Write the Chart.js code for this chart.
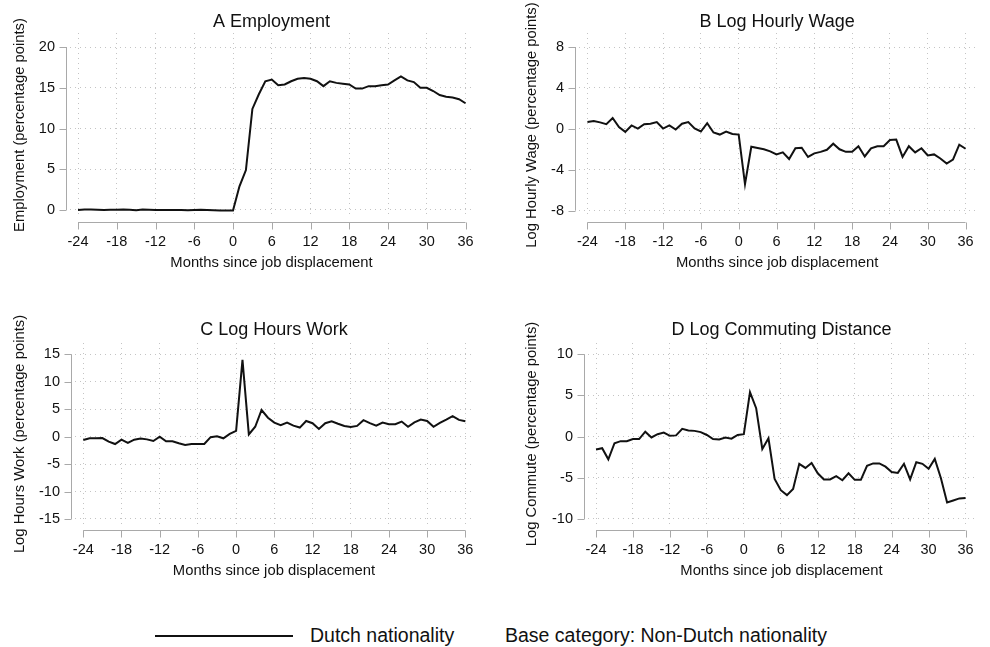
<!DOCTYPE html>
<html>
<head>
<meta charset="utf-8">
<script src="https://cdn.jsdelivr.net/npm/chart.js@4"></script>
<style>
  body { margin:0; background:#fff; width:990px; height:647px; position:relative; overflow:hidden; font-family:'Liberation Sans', Arial, sans-serif; }
  .panel { position:absolute; width:495px; height:290px; }
  .legend { position:absolute; top:622px; left:0; width:990px; height:28px; font-size:19.5px; color:#111; }
</style>
</head>
<body>
<div class="panel" style="left:0;top:0"><canvas id="chartA"></canvas></div>
<div class="panel" style="left:495px;top:0"><canvas id="chartB"></canvas></div>
<div class="panel" style="left:0;top:310px"><canvas id="chartC"></canvas></div>
<div class="panel" style="left:495px;top:310px"><canvas id="chartD"></canvas></div>
<div class="legend">
  <div style="position:absolute;left:155px;top:13px;width:138px;border-top:2px solid #111"></div>
  <span style="position:absolute;left:310px;top:2px">Dutch nationality</span>
  <span style="position:absolute;left:505px;top:2px">Base category: Non-Dutch nationality</span>
</div>
<script>
// months relative to job displacement
const months = [-24,-23,-22,-21,-20,-19,-18,-17,-16,-15,-14,-13,-12,-11,-10,-9,-8,-7,-6,-5,-4,-3,-2,-1,0,
  1,2,3,4,5,6,7,8,9,10,11,12,13,14,15,16,17,18,19,20,21,22,23,24,25,26,27,28,29,30,31,32,33,34,35,36];
const xTicks = [-24,-18,-12,-6,0,6,12,18,24,30,36];

const employment = [0,0.05,0.05,0.02,0,0.02,0.03,0.05,0.02,-0.02,0.05,0.03,0,0,0,0,0,-0.03,0,0.02,0,-0.03,-0.05,-0.05,-0.05,
  2.9,4.9,12.4,14.2,15.8,16.0,15.3,15.4,15.8,16.1,16.2,16.1,15.8,15.2,15.8,15.6,15.5,15.4,14.9,14.9,15.2,15.2,15.3,15.4,15.9,16.4,15.9,15.7,15.0,15.0,14.6,14.1,13.9,13.8,13.6,13.1];
const hourlyWage = [0.66,0.76,0.63,0.46,1.06,0.17,-0.3,0.33,0.03,0.46,0.5,0.66,0.03,0.33,-0.07,0.5,0.66,0.03,-0.26,0.56,-0.36,-0.56,-0.26,-0.5,-0.56,
  -5.4,-1.75,-1.88,-2.0,-2.2,-2.5,-2.3,-2.95,-1.9,-1.85,-2.75,-2.4,-2.25,-2.05,-1.45,-2.0,-2.25,-2.25,-1.7,-2.7,-1.9,-1.7,-1.7,-1.1,-1.05,-2.75,-1.7,-2.3,-1.9,-2.6,-2.5,-2.9,-3.4,-3.0,-1.55,-1.95];
const hoursWork = [-0.6,-0.3,-0.3,-0.25,-0.9,-1.35,-0.55,-1.15,-0.55,-0.35,-0.5,-0.8,0,-0.85,-0.85,-1.2,-1.5,-1.35,-1.35,-1.35,-0.1,0.05,-0.3,0.5,1.05,
  14.0,0.4,1.8,4.85,3.45,2.55,2.1,2.55,2.0,1.65,2.85,2.45,1.4,2.45,2.8,2.35,1.95,1.75,1.95,3.0,2.45,2.0,2.55,2.25,2.25,2.75,1.8,2.6,3.1,2.85,1.8,2.5,3.1,3.75,3.05,2.8];
const commute = [-1.55,-1.4,-2.75,-0.8,-0.55,-0.55,-0.3,-0.3,0.6,-0.1,0.3,0.5,0.1,0.15,0.95,0.75,0.7,0.55,0.2,-0.3,-0.35,-0.1,-0.25,0.2,0.3,
  5.4,3.45,-1.5,-0.2,-5.15,-6.5,-7.1,-6.35,-3.3,-3.8,-3.2,-4.45,-5.2,-5.2,-4.8,-5.3,-4.45,-5.25,-5.25,-3.55,-3.25,-3.25,-3.65,-4.3,-4.4,-3.3,-5.2,-3.1,-3.3,-3.9,-2.7,-5.05,-8.0,-7.75,-7.5,-7.45];

const ticksA = [0,5,10,15,20];
const ticksB = [-8,-4,0,4,8];
const ticksC = [-15,-10,-5,0,5,10,15];
const ticksD = [-10,-5,0,5,10];

const FONT = "'Liberation Sans', Arial, sans-serif";
const TEXT = '#111';
const AXIS = '#a9a9a9';
const GRID = '#c4c4c4';

// Stata-style axes: lines pulled off the plot region, spanning first..last tick
const offsetAxes = {
  id: 'offsetAxes',
  afterDraw(chart) {
    const {ctx, chartArea: a, scales: {x, y}} = chart;
    const yt = y.ticks.map(t => t.value), xt = x.ticks.map(t => t.value);
    const ax = a.left - 3.5, ay = a.bottom + 5.5;
    ctx.save();
    ctx.strokeStyle = AXIS;
    ctx.lineWidth = 1;
    ctx.beginPath();
    ctx.moveTo(ax, y.getPixelForValue(yt[0]));
    ctx.lineTo(ax, y.getPixelForValue(yt[yt.length-1]));
    yt.forEach(v => { const p = Math.round(y.getPixelForValue(v)) + 0.5; ctx.moveTo(ax - 7, p); ctx.lineTo(ax, p); });
    ctx.moveTo(x.getPixelForValue(xt[0]), ay);
    ctx.lineTo(x.getPixelForValue(xt[xt.length-1]), ay);
    xt.forEach(v => { const p = Math.round(x.getPixelForValue(v)) + 0.5; ctx.moveTo(p, ay); ctx.lineTo(p, ay + 7); });
    ctx.stroke();
    ctx.restore();
  }
};

function makePanel(id, o) {
  const ctx = document.getElementById(id).getContext('2d');
  return new Chart(ctx, {
    type: 'line',
    data: {
      datasets: [{
        data: months.map((m, i) => ({x: m, y: o.values[i]})),
        borderColor: '#111', borderWidth: 2, pointRadius: 0, tension: 0, fill: false
      }]
    },
    options: {
      responsive: true, maintainAspectRatio: false, animation: false,
      layout: { padding: { left: 0, right: o.padRight, top: 0, bottom: 0 } },
      plugins: {
        legend: { display: false }, tooltip: { enabled: false },
        title: { display: true, text: o.title, fullSize: false, color: TEXT,
          font: { family: FONT, size: 18, weight: 'normal' }, padding: { top: o.titleTop, bottom: 33 - o.titleTop - 21.6 } }
      },
      scales: {
        x: {
          type: 'linear', min: o.xMin, max: o.xMax,
          afterBuildTicks: s => { s.ticks = xTicks.map(v => ({value: v})); },
          afterFit: s => { s.height = o.xHeight; },
          ticks: { color: TEXT, font: { family: FONT, size: 14.5 }, padding: 16, maxRotation: 0, autoSkip: false },
          grid: { color: GRID, lineWidth: 1, drawTicks: false },
          border: { display: false, dash: [1, 4] },
          title: { display: true, text: 'Months since job displacement', color: TEXT,
            font: { family: FONT, size: 14.8 }, padding: { top: 0, bottom: o.xTitlePad } }
        },
        y: {
          min: o.yMin, max: o.yMax,
          afterBuildTicks: s => { s.ticks = o.yTicks.map(v => ({value: v})); },
          afterFit: s => { s.width = o.yWidth; },
          ticks: { color: TEXT, font: { family: FONT, size: 14.5 }, padding: 15 },
          grid: { color: GRID, lineWidth: 1, drawTicks: false },
          border: { display: false, dash: [1, 4] },
          title: { display: true, text: o.yTitle, color: TEXT,
            font: { family: FONT, size: 14.8 }, padding: { top: o.yTitlePad, bottom: 0 } }
        }
      }
    },
    plugins: [offsetAxes]
  });
}

makePanel('chartA', { title: 'A Employment', yTitle: 'Employment (percentage points)', values: employment,
  yTicks: ticksA, yMin: -0.86, yMax: 21.72, xMin: -25.24, xMax: 37.16,
  yWidth: 70, padRight: 22, xHeight: 73, titleTop: 11.2, xTitlePad: 18, yTitlePad: 11 });
makePanel('chartB', { title: 'B Log Hourly Wage', yTitle: 'Log Hourly Wage (percentage points)', values: hourlyWage,
  yTicks: ticksB, yMin: -8.62, yMax: 9.37, xMin: -25.34, xMax: 37.54,
  yWidth: 84, padRight: 2, xHeight: 73, titleTop: 11.2, xTitlePad: 18, yTitlePad: 28 });
makePanel('chartC', { title: 'C Log Hours Work', yTitle: 'Log Hours Work (percentage points)', values: hoursWork,
  yTicks: ticksC, yMin: -16.1, yMax: 17.06, xMin: -25.3, xMax: 37.2,
  yWidth: 75, padRight: 22, xHeight: 75, titleTop: 9.2, xTitlePad: 20, yTitlePad: 11 });
makePanel('chartD', { title: 'D Log Commuting Distance', yTitle: 'Log Commute (percentage points)', values: commute,
  yTicks: ticksD, yMin: -10.73, yMax: 11.37, xMin: -25.3, xMax: 37.52,
  yWidth: 93, padRight: 2, xHeight: 75, titleTop: 9.2, xTitlePad: 20, yTitlePad: 28 });
</script>
</body>
</html>
